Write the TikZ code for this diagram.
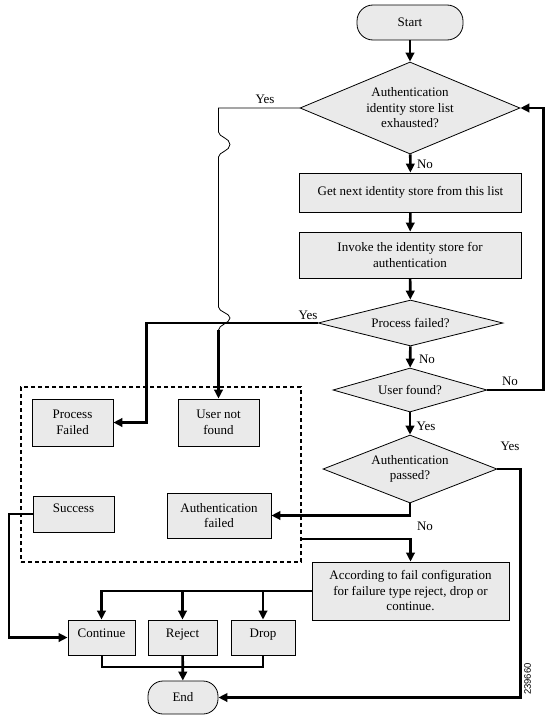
\documentclass[tikz,border=0pt]{standalone}
\usepackage{fontspec}
\setmainfont{Liberation Serif}
\setsansfont{Liberation Sans}
\usepackage{tikz}
\usetikzlibrary{positioning}
\usetikzlibrary{arrows.meta}
\usetikzlibrary{shapes.geometric}
\definecolor{boxgray}{RGB}{234,234,234}

\begin{document}
\begin{tikzpicture}[x=1pt, y=-1pt,
font=\fontsize{13}{15.5}\selectfont,
procbox/.style={rectangle, draw, fill=boxgray, line width=0.8pt, align=center, inner sep=1pt},
decision/.style={diamond, draw, fill=boxgray, line width=0.8pt, align=center, inner sep=0pt},
terminal/.style={rectangle, rounded corners=16pt, draw, fill=boxgray, line width=0.8pt},
choicebox/.style={procbox, minimum height=35pt, text height=8.5pt, text depth=9.5pt},
heavy/.style={line width=2.6pt, -{Triangle[length=9pt,width=8.5pt]}},
medium/.style={line width=2pt},
thinline/.style={line width=0.8pt},
]
\useasboundingbox (0,0) rectangle (552,720);

%Nodes
\node[terminal, minimum width=106pt, minimum height=35pt] (start) at (410,22.5) {Start};
\node[decision, aspect=2.4, minimum width=220pt, minimum height=92pt] (exhausted) at (410,108) {Authentication\\identity store list\\exhausted?};
\node[procbox, minimum width=222pt, minimum height=39pt] (getnext) at (410.5,192.5) {Get next identity store from this list};
\node[procbox, minimum width=222pt, minimum height=46pt] (invoke) at (410,255) {Invoke the identity store for\\authentication};
\node[decision, aspect=4, minimum width=185pt, minimum height=46pt] (procfail) at (410.5,323) {Process failed?};
\node[decision, aspect=3.5, minimum width=154pt, minimum height=44pt] (userfound) at (410,390) {User found?};
\node[decision, aspect=2.56, minimum width=174pt, minimum height=68pt] (authpass) at (410,469) {Authentication\\passed?};
\node[procbox, minimum width=197pt, minimum height=58pt] (failcfg) at (410.5,591) {According to fail configuration\\for failure type reject, drop or\\continue.};

\node[draw, line width=1.5pt, dash pattern=on 4pt off 3pt, minimum width=280pt, minimum height=175pt] (results) at (161,474.5) {};
\node[procbox, minimum width=81pt, minimum height=47pt] (pfailed) at (72.5,422.5) {Process\\Failed};
\node[procbox, minimum width=81pt, minimum height=47pt] (notfound) at (218.5,422.5) {User not\\found};
\node[procbox, minimum width=81pt, minimum height=36pt, text height=8.5pt, text depth=12.5pt] (success) at (73.5,514) {Success};
\node[procbox, minimum width=104pt, minimum height=45pt] (authfail) at (219,515.5) {Authentication\\failed};

\node[choicebox, minimum width=67pt] (cont) at (101.5,637.5) {Continue};
\node[choicebox, minimum width=69pt] (reject) at (182.5,637.5) {Reject};
\node[choicebox, minimum width=64pt] (drop) at (263,637.5) {Drop};
\node[terminal, rounded corners=15pt, minimum width=70pt, minimum height=33pt] (finish) at (183,697.5) {End};

\node[rotate=90, font=\sffamily\fontsize{9.5}{10}\selectfont] (figid) at (527.5,679) {239660};

%Labels
\node (yes1) at (265,99) {Yes};
\node (no1) at (425,164) {No};
\node (yes2) at (308,315) {Yes};
\node (no2) at (427,359) {No};
\node (no3) at (510,381) {No};
\node (yes3) at (426,426) {Yes};
\node (yes4) at (510,446) {Yes};
\node (no4) at (425,526) {No};

%Lines
\draw[heavy] (start) -- (exhausted);
\draw[heavy] (exhausted) -- (getnext);
\draw[heavy] (getnext) -- (invoke);
\draw[heavy] (invoke) -- (procfail);
\draw[heavy] (procfail) -- (userfound);
\draw[heavy] (userfound) -- (authpass);
\draw[heavy] (userfound.east) -- ++(56,0) |- (exhausted.east);
\draw[heavy] (procfail.west) -| ([xshift=33pt]pfailed.east) -- (pfailed.east);

\coordinate (hop) at (218.5,330);
\draw[thinline] (exhausted.west) -| (218.5,132)
  .. controls (218.5,137) and (230,138) .. (230,144.5)
  .. controls (230,151) and (218.5,152) .. (218.5,157)
  -- (218.5,307)
  .. controls (218.5,312) and (230,313) .. (230,318)
  .. controls (230,323) and (218.5,325) .. (hop);
\draw[heavy] (hop) -- (notfound);

\draw[heavy, line width=2.2pt] (authpass.east) -- ++(23,0) |- (finish.east);
\draw[heavy, line width=2.2pt] (authpass.south) |- (authfail.east);
\draw[heavy, line width=2.2pt] ([yshift=-64.5pt]results.east) -| (failcfg.north);
\draw[heavy] (success.west) -- ++(-23.5,0) |- (cont.west);

\draw[heavy, line width=2.2pt] (failcfg.west) -| (cont.north);
\draw[heavy, line width=2.2pt] (failcfg.west) -| (reject.north);
\draw[heavy, line width=2.2pt] (failcfg.west) -| (drop.north);
\draw[medium] (cont.south) -- ++(0,12) -| (drop.south);
\draw[heavy] (reject) -- (finish);
\end{tikzpicture}
\end{document}
